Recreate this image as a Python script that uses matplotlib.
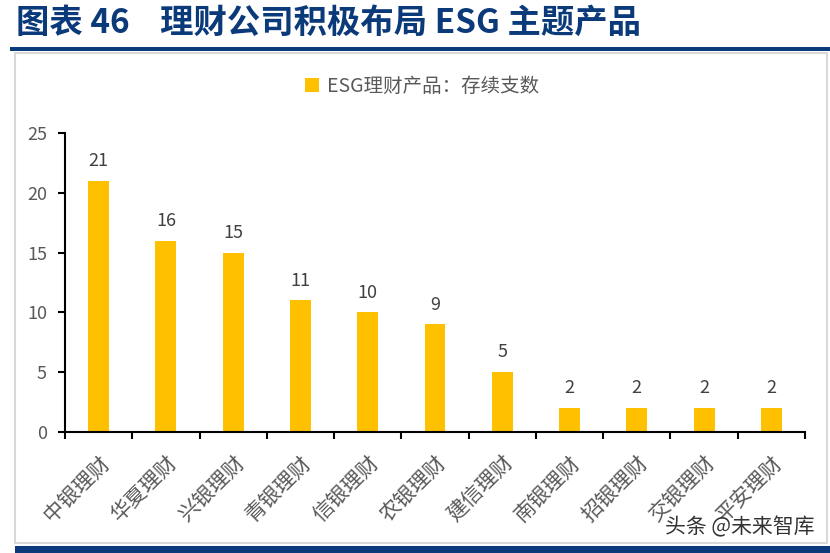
import matplotlib
matplotlib.use('Agg')
import matplotlib.pyplot as plt
from matplotlib.patches import Rectangle
import numpy as np

plt.rcParams['font.family'] = ['Noto Sans CJK SC', 'DejaVu Sans']

companies = ['中银理财', '华夏理财', '兴银理财', '青银理财', '信银理财', '农银理财',
             '建信理财', '南银理财', '招银理财', '交银理财', '平安理财']
counts = [21, 16, 15, 11, 10, 9, 5, 2, 2, 2, 2]
series_name = 'ESG理财产品：存续支数'
title = '图表 46    理财公司积极布局 ESG 主题产品'

gold = '#FFC000'
navy = '#0B3A7A'
grey = '#595959'

fig = plt.figure(figsize=(8.3, 5.53), dpi=100)

# title and rules
fig.text(16/830, 1 - 23/553, title, fontsize=24, fontweight='bold', color=navy,
         ha='left', va='center')
fig.add_artist(Rectangle((10/830, 1 - 51/553), 820/830, 4/553, transform=fig.transFigure,
                         color=navy, lw=0))
fig.add_artist(Rectangle((15/830, 1 - 543/553), 812/830, 490/553, transform=fig.transFigure,
                         fill=False, ec='#D9D9D9', lw=1.5))
fig.add_artist(Rectangle((15/830, 0), 815/830, 7/553, transform=fig.transFigure,
                         color=navy, lw=0))

ax = fig.add_axes([65/830, 1 - 432/553, 740/830, 299/553])
x = np.arange(len(companies))
bars = ax.bar(x, counts, width=0.31, color=gold, label=series_name)
for xi, v in zip(x, counts):
    ax.text(xi, v + 0.9, str(v), ha='center', va='bottom', fontsize=13, color='#404040')

ax.set_xlim(-0.5, len(companies) - 0.5)
ax.set_ylim(0, 25)
ax.set_yticks([0, 5, 10, 15, 20, 25])
ax.set_xticks(x)
ax.set_xticklabels(companies, rotation=45, ha='right', va='top', rotation_mode='anchor',
                   fontsize=15, color=grey)
ax.set_xticks(np.arange(-0.5, len(companies)), minor=True)
ax.tick_params(axis='x', which='major', length=0, pad=14)
ax.tick_params(axis='x', which='minor', length=5, width=1.5, direction='out')
ax.tick_params(axis='y', length=5, width=1.5, labelsize=13, labelcolor=grey, pad=8)
for s in ['top', 'right']:
    ax.spines[s].set_visible(False)
for s in ['left', 'bottom']:
    ax.spines[s].set_linewidth(1.5)

fig.legend(handles=[bars], labels=[series_name], loc='center', bbox_to_anchor=(422/830, 1 - 86/553),
           frameon=False, fontsize=14, handlelength=0.7, handleheight=0.7, handletextpad=0.4,
           labelcolor=grey)

fig.text(815/830, 1 - 527/553, '头条 @未来智库', fontsize=15, color='#333333',
         ha='right', va='center')

fig.savefig('out.png', dpi=100)
